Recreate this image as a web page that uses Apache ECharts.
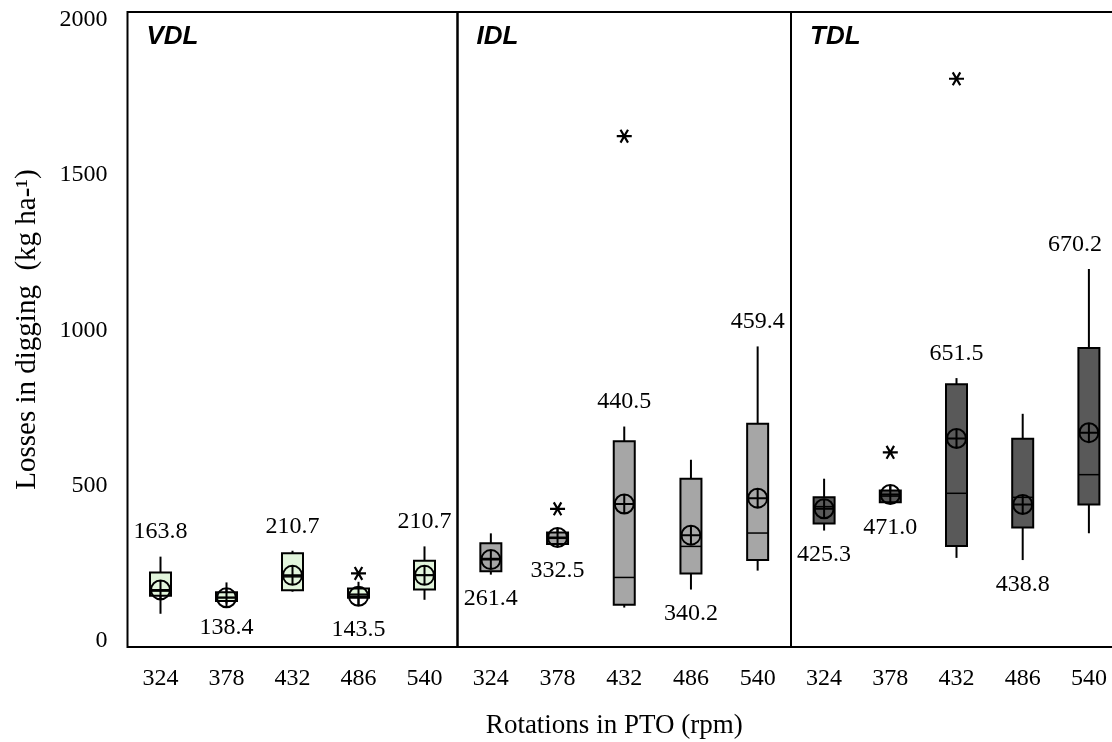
<!DOCTYPE html>
<html>
<head>
<meta charset="utf-8">
<script src="https://cdn.jsdelivr.net/npm/echarts@6/dist/echarts.min.js"></script>
<style>
  html, body { margin: 0; padding: 0; background: #fff; }
  #chart { width: 1112px; height: 742px; }
</style>
</head>
<body>
<div id="chart"></div>
<script>
// categories (PTO rotations) and panels
const rpm = ['324', '378', '432', '486', '540']
const panels = ['VDL', 'IDL', 'TDL']
const yTicks = [0, 500, 1000, 1500, 2000]

// five-number summaries [min, q1, median, q3, max]
const vdlBox = [[87, 145, 160, 220, 271], [120, 128, 140, 156, 188], [158, 163, 206, 282, 290], [113, 139, 150, 168, 190], [132, 165, 212, 258, 304]]
const idlBox = [[213, 224, 265, 314, 346], [306, 312, 330, 349, 362], [107, 116, 204, 643, 690], [165, 217, 304, 522, 583], [226, 260, 347, 699, 948]]
const tdlBox = [[355, 378, 432, 462, 522], [442, 446, 466, 484, 500], [267, 305, 475, 826, 846], [260, 365, 462, 651, 731], [346, 439, 535, 943, 1197]]

// means (labels)
const vdlMean = [163.8, 138.4, 210.7, 143.5, 210.7]
const idlMean = [261.4, 332.5, 440.5, 340.2, 459.4]
const tdlMean = [425.3, 471.0, 651.5, 438.8, 670.2]

// outliers [category index, value]
const vdlOut = [[3, 217]]
const idlOut = [[1, 425], [2, 1625]]
const tdlOut = [[1, 607], [2, 1810]]

// which side of the whisker the mean label sits
const vdlSide = ['top', 'bottom', 'top', 'bottom', 'top']
const idlSide = ['bottom', 'bottom', 'top', 'bottom', 'top']
const tdlSide = ['bottom', 'bottom', 'top', 'bottom', 'top']

const boxes = [vdlBox, idlBox, tdlBox]
const means = [vdlMean, idlMean, tdlMean]
const outs = [vdlOut, idlOut, tdlOut]
const sides = [vdlSide, idlSide, tdlSide]
const fills = ['#e2f5dc', '#a6a6a6', '#595959']

const serif = 'Liberation Serif'

// 均值标记: 圆圈加十字
const meanSymbol = 'path://M0,-10 A10,10 0 1,1 0,10 A10,10 0 1,1 0,-10 Z M-10,0 L10,0 M0,-10 L0,10'
// 异常值: 星号
const starSymbol = 'path://M-7,0 L7,0 M-3.5,-6 L3.5,6 M3.5,-6 L-3.5,6'

const gridLeft = [127.5, 457.5, 791]
const gridWidth = [330, 333.5, 331]

let chart = echarts.init(document.getElementById('chart'))

let grids = [], xAxes = [], yAxes = [], series = [], titles = []

panels.forEach((p, i) => {
    grids.push({
        left: gridLeft[i], width: gridWidth[i], top: 12, bottom: 95,
        outerBoundsMode: 'none', containLabel: false,
        show: true, borderColor: '#000', borderWidth: 2, backgroundColor: 'transparent'
    })
    xAxes.push({
        type: 'category', gridIndex: i, data: rpm,
        axisLine: { show: false }, axisTick: { show: false },
        axisLabel: { color: '#000', fontFamily: serif, fontSize: 24, margin: 20 },
        name: i === 1 ? 'Rotations in PTO (rpm)' : '',
        nameLocation: 'middle', nameGap: 65,
        nameTextStyle: { color: '#000', fontFamily: serif, fontSize: 27, padding: [0, 20, 0, 0] }
    })
    yAxes.push({
        type: 'value', gridIndex: i, min: -20, max: 2025, show: i === 0,
        splitLine: { show: false }, axisLine: { show: false }, axisTick: { show: false },
        axisLabel: { color: '#000', fontFamily: serif, fontSize: 24, margin: 20, customValues: yTicks, formatter: v => String(v) },
        name: i === 0 ? 'Losses in digging  (kg ha-¹)' : '',
        nameLocation: 'middle', nameGap: 86,
        nameTextStyle: { color: '#000', fontFamily: serif, fontSize: 29 }
    })
    titles.push({
        text: p, left: gridLeft[i] + 14, top: 19,
        textStyle: { fontFamily: 'Liberation Sans', fontStyle: 'italic', fontWeight: 'bold', fontSize: 26, color: '#000' }
    })

    // box + whiskers
    series.push({
        type: 'custom', xAxisIndex: i, yAxisIndex: i,
        data: boxes[i].map((b, k) => [k].concat(b)),
        encode: { x: 0, y: [1, 2, 3, 4, 5] },
        renderItem: (params, api) => {
            let x = api.value(0)
            let lo = api.coord([x, api.value(1)])
            let q1 = api.coord([x, api.value(2)])
            let md = api.coord([x, api.value(3)])
            let q3 = api.coord([x, api.value(4)])
            let hi = api.coord([x, api.value(5)])
            let w = 21, cx = lo[0]
            return {
                type: 'group',
                children: [
                    { type: 'line', shape: { x1: cx, y1: hi[1], x2: cx, y2: lo[1] }, style: { stroke: '#000', lineWidth: 2 } },
                    { type: 'rect', shape: { x: cx - w / 2, y: q3[1], width: w, height: q1[1] - q3[1] }, style: { fill: fills[i], stroke: '#000', lineWidth: 2 } },
                    { type: 'line', shape: { x1: cx - w / 2, y1: md[1], x2: cx + w / 2, y2: md[1] }, style: { stroke: '#000', lineWidth: 1.5 } }
                ]
            }
        },
        z: 2
    })

    // 均值
    series.push({
        type: 'scatter', xAxisIndex: i, yAxisIndex: i,
        data: means[i].map((m, k) => [k, m]),
        symbol: meanSymbol, symbolSize: 19, symbolKeepAspect: true,
        itemStyle: { color: 'transparent', borderColor: '#000', borderWidth: 2, opacity: 1 },
        z: 4
    })

    // 异常值
    series.push({
        type: 'scatter', xAxisIndex: i, yAxisIndex: i,
        data: outs[i],
        symbol: starSymbol, symbolSize: 15, symbolKeepAspect: true,
        itemStyle: { color: 'transparent', borderColor: '#000', borderWidth: 2.2, opacity: 1 },
        z: 4
    })

    // 均值标签 (placed at whisker ends)
    series.push({
        type: 'scatter', xAxisIndex: i, yAxisIndex: i,
        data: means[i].map((m, k) => ({
            value: [k, sides[i][k] === 'top' ? boxes[i][k][4] : boxes[i][k][0], m],
            label: { position: sides[i][k] }
        })),
        symbol: 'circle', symbolSize: 1,
        itemStyle: { color: 'transparent', opacity: 1 },
        label: {
            show: true, distance: 12, color: '#000', opacity: 1, fontFamily: serif, fontSize: 24,
            formatter: p => p.value[2].toFixed(1)
        },
        // 标签超出画布右边时往左挪
        labelLayout: params => {
            let r = params.labelRect
            let limit = chart.getWidth() - 10
            if (r.x + r.width > limit) {
                return { x: limit - r.width, y: r.y, align: 'left', verticalAlign: 'top' }
            }
        },
        z: 5
    })
})

chart.setOption({
    animation: false,
    title: titles,
    grid: grids,
    xAxis: xAxes,
    yAxis: yAxes,
    series: series
})
</script>
</body>
</html>
